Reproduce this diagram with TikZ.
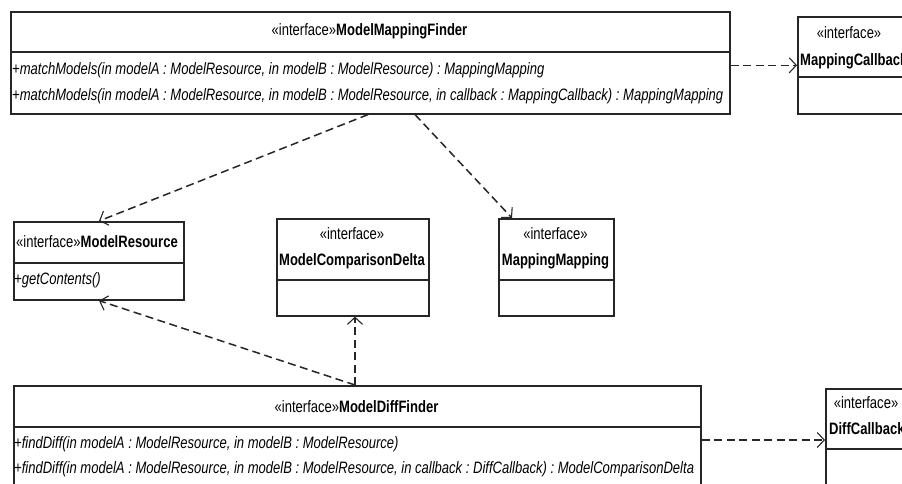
\documentclass[tikz,border=0pt]{standalone}
\usepackage{fontspec}
\setmainfont{Liberation Sans}[FakeStretch=0.79]
\usetikzlibrary{arrows.meta}
\frenchspacing
\begin{document}
\begin{tikzpicture}[x=1pt,y=-1pt,
  umlbox/.style={draw=black!85, line width=1.6pt, anchor=north west, inner sep=0pt},
  sep/.style={draw=black!85, line width=1.6pt},
  dep/.style={draw=black!85, line width=1.5pt, dash pattern=on 8pt off 4.5pt,
    -{Straight Barb[length=7pt,width=15pt,line width=1.1pt]}},
  txt/.style={font=\fontsize{16.5}{18}\selectfont, inner sep=0pt},
  op/.style={font=\fontsize{16.5}{18}\selectfont\itshape, inner sep=0pt, anchor=west},
]
\useasboundingbox (0,0) rectangle (902,483);
\fill[white] (0,0) rectangle (902,483);
\clip (0,0) rectangle (902,483);

% ModelMappingFinder
\node[umlbox, minimum width=719pt, minimum height=102pt] (mmf) at (10,11) {};
\draw[sep] (mmf.west |- 0,52) -- (mmf.east |- 0,52);
\node[txt] (mmft) at (369.5,31) {«interface»\textbf{ModelMappingFinder}};
\node[op] (mmf1) at (12,70) {+matchModels(in modelA : ModelResource, in modelB : ModelResource) : MappingMapping};
\node[op] (mmf2) at (12,96) {+matchModels(in modelA : ModelResource, in modelB : ModelResource, in callback : MappingCallback) : MappingMapping};

% MappingCallback
\node[umlbox, minimum width=114pt, minimum height=97pt] (mcb) at (797,16) {};
\draw[sep] (mcb.west |- 0,77) -- (mcb.east |- 0,77);
\node[txt] (mcbs) at (849,33) {«interface»};
\node[txt, anchor=west] (mcbn) at (800,61) {\textbf{MappingCallback}};

% ModelResource
\node[umlbox, minimum width=170pt, minimum height=78pt] (mr) at (13,221) {};
\draw[sep] (mr.west |- 0,263) -- (mr.east |- 0,263);
\node[txt] (mrt) at (97,242) {«interface»\textbf{ModelResource}};
\node[op] (mr1) at (14,280) {+getContents()};

% ModelComparisonDelta
\node[umlbox, minimum width=152pt, minimum height=97pt] (mcd) at (276,218) {};
\draw[sep] (mcd.west |- 0,280) -- (mcd.east |- 0,280);
\node[txt] (mcds) at (352,234) {«interface»};
\node[txt] (mcdn) at (352,261) {\textbf{ModelComparisonDelta}};

% MappingMapping
\node[umlbox, minimum width=115pt, minimum height=97pt] (mm) at (498,218) {};
\draw[sep] (mm.west |- 0,280) -- (mm.east |- 0,280);
\node[txt] (mms) at (555.5,234) {«interface»};
\node[txt] (mmn) at (555.5,261) {\textbf{MappingMapping}};

% ModelDiffFinder
\node[umlbox, minimum width=687pt, minimum height=110pt] (mdf) at (13,385) {};
\draw[sep] (mdf.west |- 0,427) -- (mdf.east |- 0,427);
\node[txt] (mdft) at (356.5,407) {«interface»\textbf{ModelDiffFinder}};
\node[op] (mdf1) at (14,444) {+findDiff(in modelA : ModelResource, in modelB : ModelResource)};
\node[op] (mdf2) at (14,469) {+findDiff(in modelA : ModelResource, in modelB : ModelResource, in callback : DiffCallback) : ModelComparisonDelta};

% DiffCallback
\node[umlbox, minimum width=84pt, minimum height=120pt] (dcb) at (825,388) {};
\draw[sep] (dcb.west |- 0,449) -- (dcb.east |- 0,449);
\node[txt] (dcbs) at (866,403) {«interface»};
\node[txt, anchor=west] (dcbn) at (829,429) {\textbf{DiffCallback}};

% dependencies
\draw[dep] (mmf.east |- mcb.west) -- (mcb.west);
\draw[dep] ([xshift=358pt]mmf.south west) -- ([xshift=86pt]mr.north west);
\draw[dep] ([xshift=405pt]mmf.south west) -- ([xshift=14pt]mm.north west);
\draw[dep] ([xshift=342pt]mdf.north west) -- ([xshift=342pt]mdf.north west |- mcd.south);
\draw[dep] ([xshift=342pt]mdf.north west) -- ([xshift=86pt]mr.south west);
\draw[dep] ([yshift=-52pt]dcb.north west -| mdf.east) -- ([yshift=-52pt]dcb.north west);
\end{tikzpicture}
\end{document}
